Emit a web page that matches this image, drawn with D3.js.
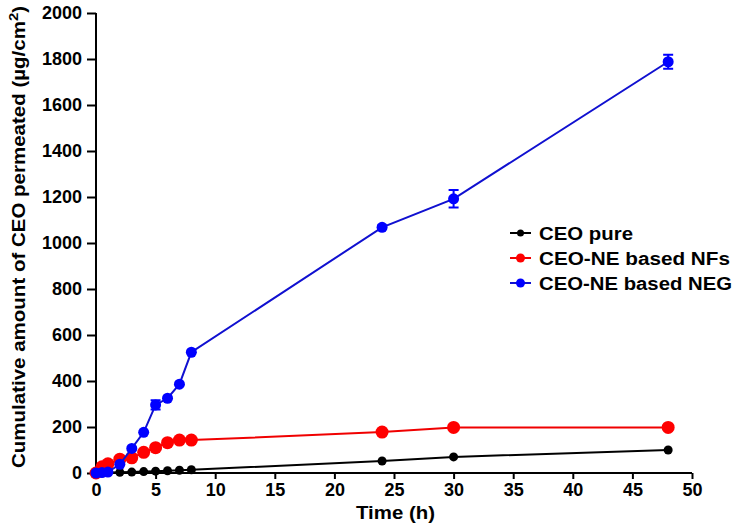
<!DOCTYPE html>
<html><head><meta charset="utf-8">
<script src="https://cdn.jsdelivr.net/npm/d3@7"></script>
<style>body{margin:0;background:#fff}svg{display:block}text{font-family:"Liberation Sans",Arial,sans-serif;font-weight:bold}</style>
</head><body><svg id="c" width="735" height="530"></svg>
<script>
const hours = [0, 0.5, 1, 2, 3, 4, 5, 6, 7, 8, 24, 30, 48];
const ceoPure = [0, 1, 2, 3, 4, 6, 8, 10, 12, 14, 52, 70, 100];
const ceoNF = [0, 27, 40, 60, 66, 90, 110, 132, 143, 143, 178, 198, 198];
const ceoNEG = [0, 2, 4, 38, 107, 177, 296, 325, 386, 525, 1068, 1192, 1788];
const negErr = [0, 0, 0, 0, 0, 0, 20, 0, 0, 0, 8, 38, 30];
const seriesNames = ["CEO pure", "CEO-NE based NFs", "CEO-NE based NEG"];
const colors = ["#000000", "#ff0000", "#0000ff"];
const lineColors = ["#000000", "#f00000", "#1010d0"];
const xTicks = [0, 5, 10, 15, 20, 25, 30, 35, 40, 45, 50];
const yTicks = [0, 200, 400, 600, 800, 1000, 1200, 1400, 1600, 1800, 2000];

const svg = d3.select("#c");
const x = d3.scaleLinear().domain([0, 50]).range([96, 692]);
const y = d3.scaleLinear().domain([0, 2000]).range([473, 13]);

const xa = svg.append("g").attr("transform", "translate(0,473)")
  .call(d3.axisBottom(x).tickValues(xTicks).tickFormat(d3.format("d")).tickSizeOuter(0).tickSize(6).tickPadding(4));
const ya = svg.append("g").attr("transform", "translate(96,0)")
  .call(d3.axisLeft(y).tickValues(yTicks).tickFormat(d3.format("d")).tickSizeOuter(0).tickSize(9).tickPadding(5));
[xa, ya].forEach(a => {
  a.selectAll("path,line").attr("stroke", "#000").attr("stroke-width", 2);
  a.selectAll("text").attr("font-size", 18).attr("fill", "#000").style("font-family", '"Liberation Sans",Arial,sans-serif').style("font-weight", "bold");
});
ya.select(".domain").attr("d", `M0,${y(0)+1}V${y(2000)}`);
xa.select(".domain").attr("d", `M${x(0)-1},0H${x(50)}`);

const series = [
  {vals: ceoPure, r: 4.5, err: null},
  {vals: ceoNF, r: 6.5, err: null},
  {vals: ceoNEG, r: 5.5, err: negErr}
];
const line = d3.line().x(d => x(d[0])).y(d => y(d[1]));
series.forEach((s, i) => {
  const pts = hours.map((h, j) => [h, s.vals[j]]);
  const g = svg.append("g");
  g.append("path").attr("d", line(pts)).attr("fill", "none").attr("stroke", lineColors[i]).attr("stroke-width", 2);
  if (s.err) {
    pts.forEach((p, j) => {
      const e = s.err[j];
      if (!e) return;
      const y1 = y(p[1] + e), y2 = y(p[1] - e);
      g.append("path").attr("d", `M${x(p[0])},${y1}V${y2}M${x(p[0])-5},${y1}H${x(p[0])+5}M${x(p[0])-5},${y2}H${x(p[0])+5}`)
        .attr("stroke", colors[i]).attr("stroke-width", 2).attr("fill", "none");
    });
  }
  g.selectAll("circle").data(pts).join("circle")
    .attr("cx", d => x(d[0])).attr("cy", d => y(d[1])).attr("r", s.r).attr("fill", colors[i]);
});

// legend
const legendWidths = [94, 191, 193];
const lg = svg.append("g");
seriesNames.forEach((n, i) => {
  const yy = 233 + i * 25;
  lg.append("line").attr("x1", 510).attr("x2", 531).attr("y1", yy).attr("y2", yy).attr("stroke", lineColors[i]).attr("stroke-width", 2);
  lg.append("circle").attr("cx", 520.5).attr("cy", yy).attr("r", i === 0 ? 3.5 : 4.5).attr("fill", colors[i]);
  lg.append("text").attr("x", 539).attr("y", yy + 6.5).attr("font-size", 18)
    .attr("textLength", legendWidths[i]).attr("lengthAdjust", "spacingAndGlyphs").text(n);
});

// axis titles
svg.append("text").attr("x", 395.5).attr("y", 519).attr("text-anchor", "middle").attr("font-size", 18)
  .attr("textLength", 79).attr("lengthAdjust", "spacingAndGlyphs").text("Time (h)");
const yt = svg.append("text").attr("transform", "translate(25,468) rotate(-90)").attr("text-anchor", "start").attr("font-size", 18)
  .attr("textLength", 462).attr("lengthAdjust", "spacingAndGlyphs");
yt.append("tspan").text("Cumulative amount of CEO permeated (µg/cm");
yt.append("tspan").attr("font-size", 13).attr("dy", -7).text("2");
yt.append("tspan").attr("dy", 7).text(")");
</script></body></html>
